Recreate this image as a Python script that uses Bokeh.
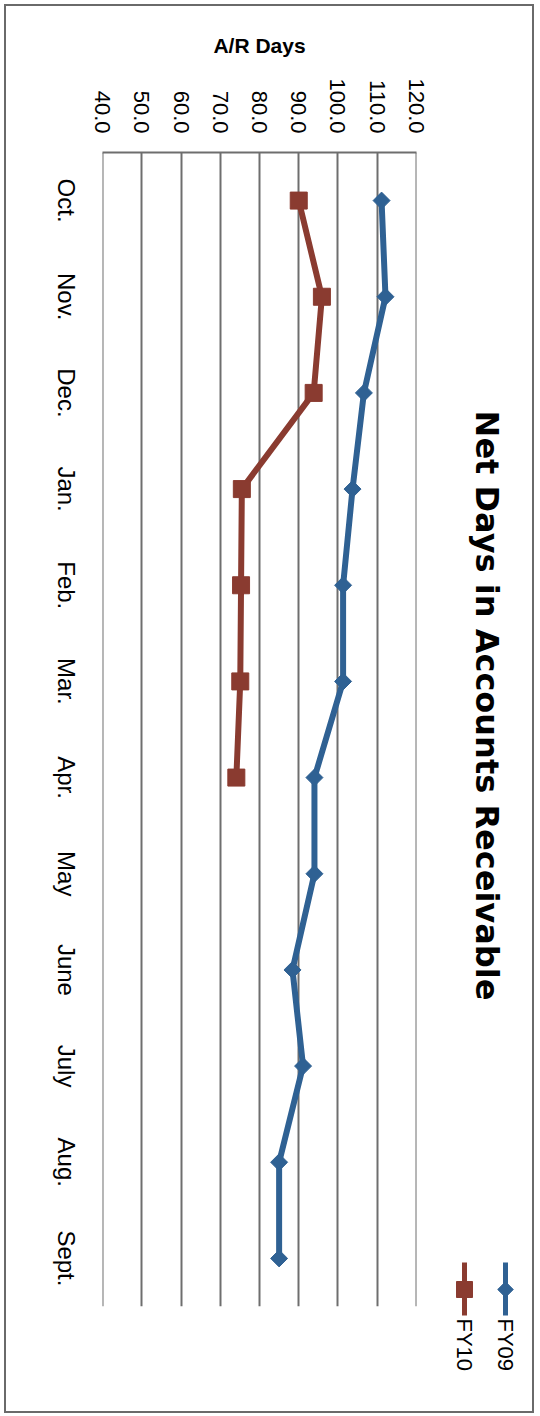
import math
from bokeh.plotting import figure
from bokeh.layouts import row
from bokeh.models import FixedTicker, NumeralTickFormatter, Range1d, FactorRange
from bokeh.core.properties import value
from bokeh.embed import file_html
from bokeh.resources import INLINE

months = ["Oct.", "Nov.", "Dec.", "Jan.", "Feb.", "Mar.", "Apr.", "May", "June", "July", "Aug.", "Sept."]
fy09 = [111.1, 112.1, 106.6, 103.7, 101.3, 101.3, 94.0, 94.0, 88.4, 91.1, 85.0, 85.0]
fy10 = [90.0, 95.9, 93.8, 75.5, 75.3, 75.1, 74.1]
value_ticks = [40, 50, 60, 70, 80, 90, 100, 110, 120]
title_text = "Net Days in Accounts Receivable"
axis_title = "A/R Days"
series_names = ["FY09", "FY10"]

BLUE = "#2F6193"
RED = "#8A3B30"
GRID = "#6e6e6e"
FONT = "Liberation Sans"
TITLE_FONT = "DejaVu Sans"

# page layout (row sits inside a 6px margin, outlined like the original frame)
M_LEFT, M_TOP = 6, 6
ROW_W, ROW_H = 526, 1405
TOP_B, BOT_B = 146, 105          # space above / below the plot area
W_L, W_MAIN = 80, 346
W_R = ROW_W - W_L - W_MAIN

y_cats = FactorRange(factors=list(reversed(months)))

# ---------- left strip: category axis ----------
pl = figure(width=W_L, height=ROW_H, output_backend="svg", toolbar_location=None,
            x_range=Range1d(0, 1), y_range=y_cats,
            x_axis_location=None, y_axis_location="right",
            min_border_left=0, min_border_right=48,
            min_border_top=TOP_B, min_border_bottom=BOT_B)
pl.outline_line_color = None
pl.grid.visible = False
la = pl.yaxis[0]
la.major_label_orientation = "parallel"
la.major_label_standoff = 8
la.major_label_text_font = FONT
la.major_label_text_font_size = "24px"
la.major_label_text_color = "black"
la.axis_line_color = None
la.major_tick_line_color = None
la.minor_tick_line_color = None

# ---------- main plot ----------
p = figure(width=W_MAIN, height=ROW_H, output_backend="svg", toolbar_location=None,
           x_range=Range1d(value_ticks[0] - 0.001, value_ticks[-1] + 0.001),
           y_range=y_cats, x_axis_location="above", y_axis_location=None,
           min_border_left=16, min_border_right=16,
           min_border_top=TOP_B, min_border_bottom=BOT_B)
p.outline_line_color = None

xa = p.xaxis[0]
xa.ticker = FixedTicker(ticks=value_ticks)
xa.formatter = NumeralTickFormatter(format="0.0")
xa.major_label_orientation = -math.pi / 2
xa.major_label_standoff = 13
xa.major_label_text_font = FONT
xa.major_label_text_font_size = "22px"
xa.major_label_text_color = "black"
xa.major_tick_line_color = None
xa.minor_tick_line_color = None
xa.axis_line_color = GRID
xa.axis_line_width = 2
xa.axis_label = axis_title
xa.axis_label_text_font = FONT
xa.axis_label_text_font_size = "21px"
xa.axis_label_text_font_style = "bold"
xa.axis_label_text_color = "black"
xa.axis_label_standoff = 18

p.xgrid.ticker = FixedTicker(ticks=value_ticks)
p.xgrid.grid_line_color = GRID
p.xgrid.grid_line_width = 2
p.ygrid.visible = False

p.line(fy09, months[:len(fy09)], line_color=BLUE, line_width=6)
p.scatter(fy09, months[:len(fy09)], marker="square", angle=math.pi / 4, size=12,
          fill_color=BLUE, line_color=BLUE)
p.line(fy10, months[:len(fy10)], line_color=RED, line_width=6)
p.scatter(fy10, months[:len(fy10)], marker="square", size=17,
          fill_color=RED, line_color=RED)

# ---------- right strip: title and legend (page-pixel coordinates) ----------
x0 = M_LEFT + W_L + W_MAIN
pr = figure(width=W_R, height=ROW_H, output_backend="svg", toolbar_location=None,
            x_range=Range1d(x0, x0 + W_R), y_range=Range1d(M_TOP + ROW_H, M_TOP),
            x_axis_location=None, y_axis_location=None,
            min_border_left=0, min_border_right=0, min_border_top=0, min_border_bottom=0)
if "frame_align" in pr.properties():
    pr.frame_align = False
pr.outline_line_color = None
pr.grid.visible = False

pr.text(x=[486], y=[705], text=[title_text], angle=-math.pi / 2,
        text_align="center", text_baseline="middle", text_font=value(TITLE_FONT),
        text_font_style="bold", text_font_size="32px", text_color="black")

legend_x = [505, 464]
colors = [BLUE, RED]
pr.segment(x0=legend_x, y0=[1262, 1262], x1=legend_x, y1=[1315, 1315],
           line_color=colors, line_width=5)
pr.scatter(x=[legend_x[0]], y=[1289], marker="square", angle=math.pi / 4, size=11,
           fill_color=BLUE, line_color=BLUE)
pr.scatter(x=[legend_x[1]], y=[1289], marker="square", size=16,
           fill_color=RED, line_color=RED)
pr.text(x=legend_x, y=[1318, 1318], text=series_names, angle=-math.pi / 2,
        text_align="left", text_baseline="middle", text_font=value(FONT),
        text_font_size="22px", text_color="black")

layout = row(pl, p, pr, margin=(M_TOP, 540 - M_LEFT - ROW_W, 1416 - M_TOP - ROW_H, M_LEFT),
             styles={"outline": "2px solid #6a6a6a"})

open("out.html", "w").write(file_html(layout, INLINE))
